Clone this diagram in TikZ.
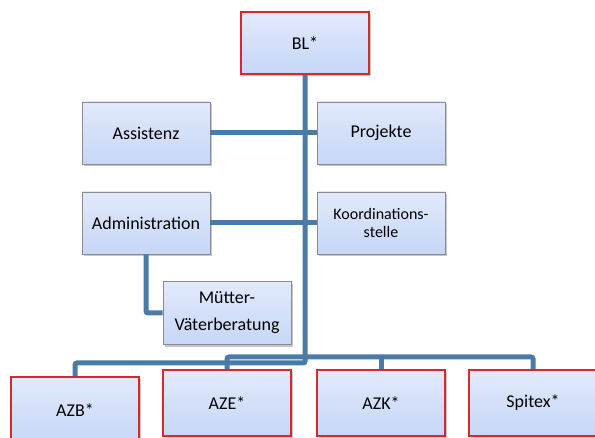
\documentclass[tikz,border=0pt]{standalone}
\usepackage{fontspec}
\setmainfont{Carlito}
\usetikzlibrary{shadows}
\definecolor{boxtop}{RGB}{226,233,252}
\definecolor{boxbot}{RGB}{198,215,246}
\definecolor{boxline}{RGB}{140,140,140}
\definecolor{redline}{RGB}{214,40,45}
\definecolor{linkblue}{RGB}{74,122,168}
\tikzset{>=latex}
\tikzset{
  unit/.style={rectangle, draw=boxline, line width=0.8pt, top color=boxtop, bottom color=boxbot,
    minimum width=128pt, minimum height=62pt, inner sep=2pt, align=center,
    font=\fontsize{18}{21}\selectfont,
    drop shadow={shadow xshift=2pt, shadow yshift=-2.5pt, opacity=0.45}},
  headunit/.style={unit, draw=redline, line width=1.6pt},
  link/.style={draw=linkblue, line width=5pt, rounded corners=2pt}
}

\begin{document}
\begin{tikzpicture}[x=1pt,y=-1pt]
\useasboundingbox (0,0) rectangle (595,438);
\node[headunit] (bl) at (305,43) {BL*};
\node[unit] (assist) at (146,133) {Assistenz};
\node[unit] (proj) at (381,133) {Projekte};
\node[unit] (admin) at (146,223) {Administration};
\node[unit, font=\fontsize{16}{18}\selectfont] (koord) at (381,223) {Koordinations-\\stelle};
\node[unit, minimum height=63pt, font=\fontsize{18}{27}\selectfont] (mvb) at (227,313) {Mütter-\\Väterberatung};
\node[headunit, minimum height=66pt] (azb) at (75,410) {AZB*};
\node[headunit, minimum height=66pt] (aze) at (227,403) {AZE*};
\node[headunit, minimum height=66pt] (azk) at (381,403) {AZK*};
\node[headunit, minimum height=66pt] (spitex) at (533,403) {Spitex*};
\coordinate (trunkend) at (305,363);
\coordinate (bus) at (305,357);
% trunk and side units
\draw[link] (bl.south) -- (trunkend) -| (azb.north);
\draw[link] (assist.east) -- (assist.east -| bl);
\draw[link] (proj.west) -- (proj.west -| bl);
\draw[link] (admin.east) -- (admin.east -| bl);
\draw[link] (koord.west) -- (koord.west -| bl);
\draw[link] (admin.south) |- (mvb.west);
% lower bus
\draw[link] (aze.north) -- (aze |- bus) -- (spitex |- bus) -- (spitex.north);
\draw[link] (azk.north) -- (azk |- bus);
\end{tikzpicture}
\end{document}
